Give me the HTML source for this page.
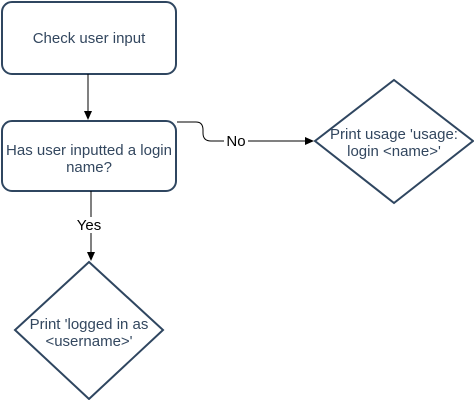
<!DOCTYPE html>
<html><head><style>
body{margin:0;background:#fff}
svg text{font-family:"Liberation Sans",sans-serif;font-size:15px;fill:#33475f}
</style></head><body>
<svg width="474" height="400" xmlns="http://www.w3.org/2000/svg">
<defs><marker id="a" markerWidth="10" markerHeight="10" refX="8" refY="4" orient="auto" markerUnits="userSpaceOnUse"><path d="M0,0 L9,4 L0,8 Z" fill="#000"/></marker></defs>
<rect x="2" y="2" width="174" height="72" rx="10" fill="#fff" stroke="#2f4660" stroke-width="2"/>
<text x="89" y="43" text-anchor="middle">Check user input</text>
<line x1="88" y1="74" x2="88" y2="119" stroke="#000" stroke-width="1" marker-end="url(#a)"/>
<rect x="2" y="121" width="174" height="70" rx="10" fill="#fff" stroke="#2f4660" stroke-width="2"/>
<text x="89" y="155" text-anchor="middle">Has user inputted a login</text>
<text x="89" y="172" text-anchor="middle">name?</text>
<path d="M177,122 L196,122 Q203,122 203,130 L203,133 Q203,141 211,141 L313,141" fill="none" stroke="#000" stroke-width="1" marker-end="url(#a)"/>
<rect x="224" y="133" width="24" height="16" fill="#fff"/>
<text x="236" y="146" text-anchor="middle" style="fill:#000">No</text>
<polygon points="394,80 473,141 394,203 315,141" fill="#fff" stroke="#2f4660" stroke-width="2"/>
<text x="394" y="139" text-anchor="middle">Print usage 'usage:</text>
<text x="394" y="156" text-anchor="middle">login &lt;name&gt;'</text>
<line x1="91" y1="191" x2="91" y2="260" stroke="#000" stroke-width="1" marker-end="url(#a)"/>
<rect x="76" y="217" width="28" height="16" fill="#fff"/>
<text x="89" y="230" text-anchor="middle" style="fill:#000">Yes</text>
<polygon points="89,262 163,330 89,399 15,330" fill="#fff" stroke="#2f4660" stroke-width="2"/>
<text x="89" y="329" text-anchor="middle">Print 'logged in as</text>
<text x="89" y="346" text-anchor="middle">&lt;username&gt;'</text>
</svg>
</body></html>
